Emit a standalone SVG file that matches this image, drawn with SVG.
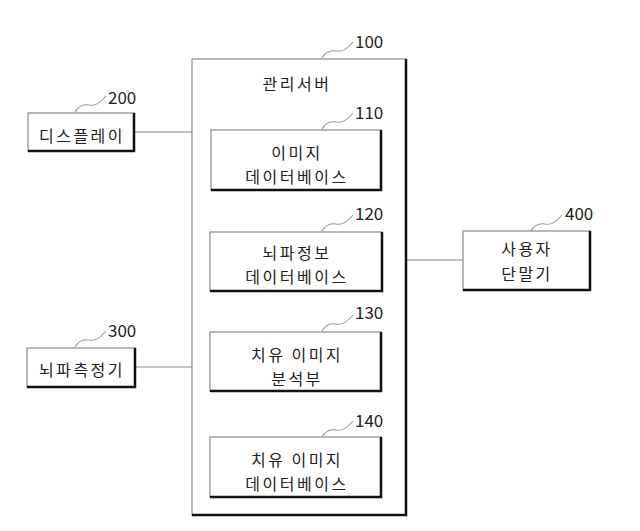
<svg xmlns="http://www.w3.org/2000/svg" xmlns:xlink="http://www.w3.org/1999/xlink" width="640" height="531" viewBox="0 0 640 531">
<style>
.lt{fill:none;stroke:#8a8a8a;stroke-width:1.2}
.dk{fill:none;stroke:#111;stroke-width:2.5}
.t{font-family:"Noto Sans CJK KR","Noto Sans",sans-serif;font-size:16px;fill:#222;letter-spacing:2.5px;text-anchor:middle}
.n{font-family:"Noto Sans CJK KR","Noto Sans",sans-serif;font-size:17px;fill:#222}
.c{fill:none;stroke:#8a8a8a;stroke-width:1.2}
.sq{fill:none;stroke:#9a9a9a;stroke-width:1.1}
</style>
<defs>
<path id="sq" d="M0,0 C4,-7 9,-8 14,-7 C20,-6 24,-8 31,-16" class="sq"/>
</defs>
<rect width="640" height="531" fill="#fff"/>
<g id="connectors">
<line class="c" x1="134" y1="132" x2="192" y2="132"/>
<line class="c" x1="135" y1="367" x2="192" y2="367"/>
<line class="c" x1="406" y1="260" x2="463" y2="260"/>
</g>
<g id="n100">
<rect class="lt" x="192" y="59" width="214" height="456"/>
<polyline class="dk" points="406,59 406,515 192,515"/>
<use xlink:href="#sq" x="322" y="58"/>
<text class="n" x="355" y="48">100</text>
<text class="t" x="297" y="90">관리서버</text>
</g>
<g id="n110">
<rect class="lt" x="211" y="130" width="170" height="60"/>
<polyline class="dk" points="381,130 381,190 211,190"/>
<use xlink:href="#sq" x="322" y="129"/>
<text class="n" x="355" y="119">110</text>
<text class="t" x="297" y="159">이미지</text>
<text class="t" x="297" y="183">데이터베이스</text>
</g>
<g id="n120">
<rect class="lt" x="210" y="232" width="172" height="59"/>
<polyline class="dk" points="382,232 382,291 210,291"/>
<use xlink:href="#sq" x="322" y="231"/>
<text class="n" x="355" y="220">120</text>
<text class="t" x="297" y="259">뇌파정보</text>
<text class="t" x="297" y="283">데이터베이스</text>
</g>
<g id="n130">
<rect class="lt" x="210" y="332" width="171" height="59"/>
<polyline class="dk" points="381,332 381,391 210,391"/>
<use xlink:href="#sq" x="322" y="331"/>
<text class="n" x="355" y="319">130</text>
<text class="t" x="297" y="361">치유 이미지</text>
<text class="t" x="297" y="385">분석부</text>
</g>
<g id="n140">
<rect class="lt" x="210" y="437" width="171" height="60"/>
<polyline class="dk" points="381,437 381,497 210,497"/>
<use xlink:href="#sq" x="322" y="437"/>
<text class="n" x="355" y="427">140</text>
<text class="t" x="297" y="466">치유 이미지</text>
<text class="t" x="297" y="490">데이터베이스</text>
</g>
<g id="n200">
<rect class="lt" x="28" y="113" width="106" height="38"/>
<polyline class="dk" points="134,113 134,151 28,151"/>
<use xlink:href="#sq" x="75" y="112"/>
<text class="n" x="108" y="104">200</text>
<text class="t" x="82" y="142">디스플레이</text>
</g>
<g id="n300">
<rect class="lt" x="27" y="348" width="108" height="39"/>
<polyline class="dk" points="135,348 135,387 27,387"/>
<use xlink:href="#sq" x="75" y="347"/>
<text class="n" x="108" y="337">300</text>
<text class="t" x="82" y="376">뇌파측정기</text>
</g>
<g id="n400">
<rect class="lt" x="463" y="231" width="127" height="59"/>
<polyline class="dk" points="590,231 590,290 463,290"/>
<use xlink:href="#sq" x="531" y="231"/>
<text class="n" x="565" y="220">400</text>
<text class="t" x="527" y="255">사용자</text>
<text class="t" x="527" y="280">단말기</text>
</g>
</svg>
